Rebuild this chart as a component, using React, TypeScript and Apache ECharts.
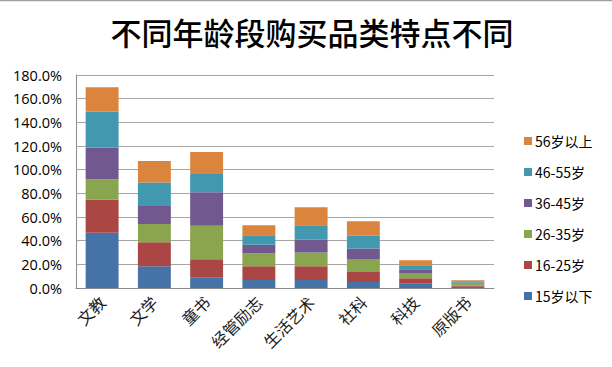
import React, { useEffect, useRef } from "react";
import * as echarts from "echarts";

const categories = ["文教", "文学", "童书", "经管励志", "生活艺术", "社科", "科技", "原版书"];
const seriesNames = ["15岁以下", "16-25岁", "26-35岁", "36-45岁", "46-55岁", "56岁以上"];
const age15 = [46.6, 18.3, 9.0, 6.8, 6.8, 5.1, 4.0, 1.0];
const age16_25 = [28.2, 20.3, 15.2, 11.6, 11.6, 8.5, 4.2, 0.9];
const age26_35 = [17.2, 15.5, 28.5, 10.8, 11.6, 11.0, 4.5, 1.8];
const age36_45 = [26.5, 15.2, 28.2, 7.4, 10.8, 8.8, 3.1, 0.8];
const age46_55 = [30.5, 19.8, 15.5, 7.9, 12.2, 10.8, 3.4, 1.2];
const age56 = [20.6, 18.3, 18.6, 8.5, 15.3, 12.2, 4.2, 0.8];
const yTicks = [0, 20, 40, 60, 80, 100, 120, 140, 160, 180];

const colors = ["#4572A7", "#AA4643", "#89A54E", "#71588F", "#4198AF", "#DB843D"];

export default function App() {
  const ref = useRef<HTMLDivElement>(null);
  useEffect(() => {
    if (!ref.current) return;
    const chart = echarts.init(ref.current, null, { renderer: "svg" });
    const data = [age15, age16_25, age26_35, age36_45, age46_55, age56];
    chart.setOption({
      animation: false,
      backgroundColor: "#ffffff",
      color: colors,
      title: {
        text: "不同年龄段购买品类特点不同",
        left: 307,
        textAlign: "center",
        top: 11,
        textStyle: {
          fontFamily: "Noto Sans CJK SC",
          fontSize: 31,
          fontWeight: 500,
          color: "#000000",
        },
      },
      graphic: [
        {
          type: "line",
          shape: { x1: 0, y1: 0.5, x2: 612, y2: 0.5 },
          style: { stroke: "#a0a0a0", lineWidth: 1.5 },
        },
      ],
      legend: {
        orient: "vertical",
        left: 519,
        top: 129,
        itemWidth: 8,
        itemHeight: 8,
        itemGap: 17,
        icon: "rect",
        data: seriesNames.slice().reverse(),
        textStyle: {
          fontFamily: "Noto Sans CJK SC",
          fontSize: 14,
          color: "#000000",
          padding: [0, 0, 0, -2],
        },
      },
      grid: { left: 76, right: 118, top: 75, bottom: 79, containLabel: false },
      xAxis: {
        type: "category",
        data: categories,
        axisLine: { show: true, lineStyle: { color: "#8c8c8c", width: 1 } },
        axisTick: { show: false },
        axisLabel: {
          rotate: 45,
          interval: 0,
          margin: 11,
          fontFamily: "Noto Sans CJK SC",
          fontSize: 16,
          color: "#1a1a1a",
        },
      },
      yAxis: {
        type: "value",
        min: 0,
        max: yTicks[yTicks.length - 1],
        interval: 20,
        axisLine: { show: true, lineStyle: { color: "#8c8c8c", width: 1 } },
        axisTick: { show: false },
        splitLine: { lineStyle: { color: "#a6a6a6", width: 1 } },
        axisLabel: {
          formatter: (v: number) => v.toFixed(1) + "%",
          fontFamily: "Open Sans",
          fontSize: 14.5,
          color: "#000000",
          margin: 14,
        },
      },
      series: seriesNames.map((name, i) => ({
        name,
        type: "bar",
        stack: "total",
        barWidth: "63%",
        data: data[i],
        itemStyle: { color: colors[i] },
      })),
    });
    return () => chart.dispose();
  }, []);
  return (
    <div
      ref={ref}
      style={{ position: "absolute", left: 0, top: 0, width: 612, height: 367 }}
    />
  );
}
